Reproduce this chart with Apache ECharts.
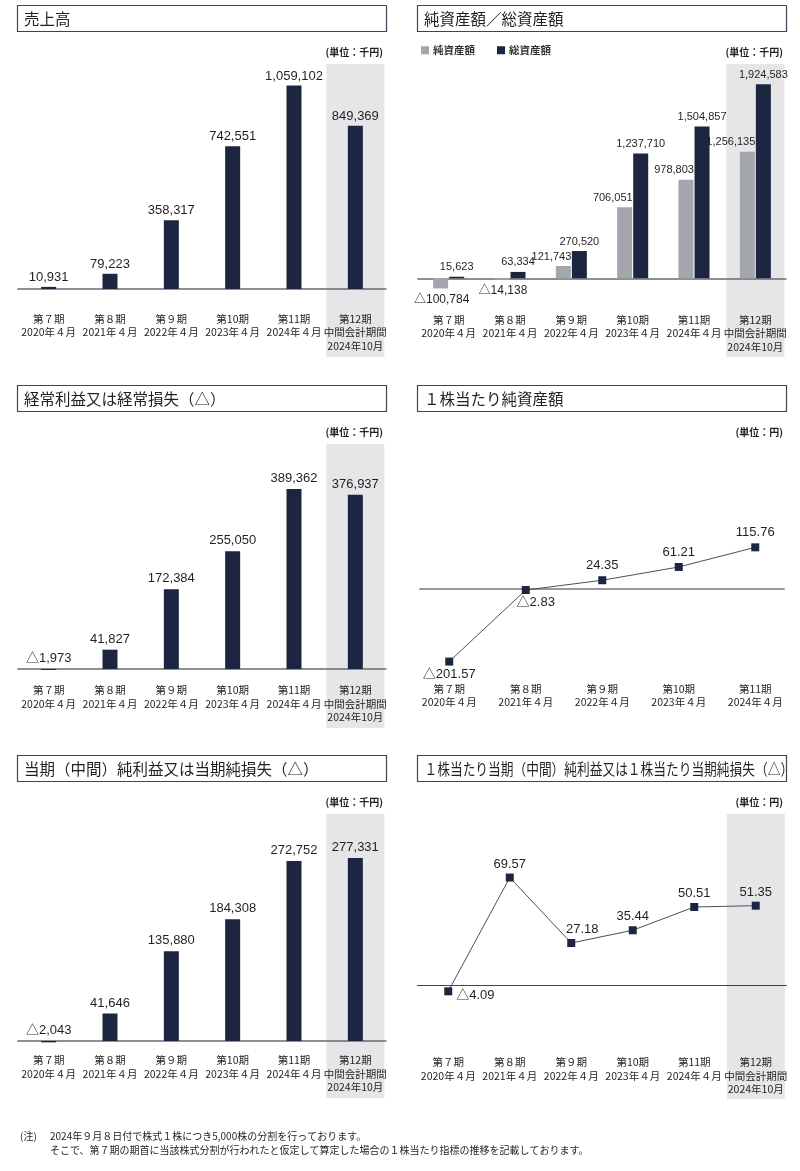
<!DOCTYPE html>
<html><head><meta charset="utf-8">
<script src="https://cdn.jsdelivr.net/npm/echarts@6/dist/echarts.min.js"></script>
<style>html,body{margin:0;padding:0;background:#fff}#c{width:800px;height:1171px}</style>
</head><body><div id="c"></div>
<script>
// ---------- data ----------
const categories = ['第７期\n2020年４月', '第８期\n2021年４月', '第９期\n2022年４月', '第10期\n2023年４月', '第11期\n2024年４月', '第12期\n中間会計期間\n2024年10月'];
const categoriesBPS = ['第７期\n2020年４月', '第８期\n2021年４月', '第９期\n2022年４月', '第10期\n2023年４月', '第11期\n2024年４月'];
const sales = [10931, 79223, 358317, 742551, 1059102, 849369];
const netAssets = [-100784, -14138, 121743, 706051, 978803, 1256135];
const totalAssets = [15623, 63334, 270520, 1237710, 1504857, 1924583];
const ordinaryIncome = [-1973, 41827, 172384, 255050, 389362, 376937];
const bps = [-201.57, -2.83, 24.35, 61.21, 115.76];
const netIncome = [-2043, 41646, 135880, 184308, 272752, 277331];
const eps = [-4.09, 69.57, 27.18, 35.44, 50.51, 51.35];
const titles = ['売上高', '純資産額／総資産額', '経常利益又は経常損失（△）', '１株当たり純資産額', '当期（中間）純利益又は当期純損失（△）', '１株当たり当期（中間）純利益又は１株当たり当期純損失（△）'];
const units = ['(単位：千円)', '(単位：千円)', '(単位：千円)', '(単位：円)', '(単位：千円)', '(単位：円)'];
const legendNames = ['純資産額', '総資産額'];
const noteLines = ['2024年９月８日付で株式１株につき5,000株の分割を行っております。', 'そこで、第７期の期首に当該株式分割が行われたと仮定して算定した場合の１株当たり指標の推移を記載しております。'];

// ---------- styles ----------
const NAVY = '#1c2640', GRAY = '#a4a6ad', SHADE = '#e6e6e9', TXT = '#231f20';
const NUMFONT = "'Liberation Sans','Noto Sans CJK JP',sans-serif";
const JPFONT = "'Noto Sans CJK JP',sans-serif";
const fmtInt = v => (v < 0 ? '△' : '') + Math.abs(v).toLocaleString('en-US');
const fmtDec = v => (v < 0 ? '△' : '') + Math.abs(v).toFixed(2);
const valLabel = (fmt, extra) => Object.assign({show: true, position: 'top', distance: 3, fontFamily: NUMFONT, fontSize: 13, color: TXT, formatter: p => fmt(p.value)}, extra || {});

function catAxis(gridIndex, data, margin, lineColor, lineWidth, showLine) {
  return {type: 'category', gridIndex, data,
    axisLine: {show: showLine !== false, onZero: true, lineStyle: {color: lineColor, width: lineWidth}},
    axisTick: {show: false}, splitLine: {show: false},
    axisLabel: {interval: 0, margin, fontFamily: JPFONT, fontSize: 10.5, lineHeight: 13.5, color: TXT, verticalAlign: 'top'}};
}
const valAxis = (gridIndex, min, max) => ({type: 'value', gridIndex, min, max, show: false});

function shadeSeries(idx, n) {
  return {type: 'custom', xAxisIndex: idx, yAxisIndex: idx, z: -1, silent: true,
    data: [[n - 1, 0]],
    renderItem: (params, api) => {
      const cs = params.coordSys;
      const cx = api.coord([api.value(0), 0])[0];
      const w = api.size([1, 0])[0] * 0.945;
      return {type: 'rect', shape: {x: cx - w / 2, y: cs.y, width: w, height: cs.height}, style: {fill: SHADE}};
    }};
}

const grids = [
  {left: 18, width: 368, top: 64, height: 293},
  {left: 418, width: 368, top: 64, height: 293},
  {left: 18, width: 368, top: 444, height: 284},
  {left: 411, width: 382.5, top: 444, height: 284},
  {left: 18, width: 368, top: 814, height: 284},
  {left: 417.5, width: 369, top: 814, height: 285},
  {left: 420, width: 364, top: 444, height: 284}
];
const xAxes = [
  catAxis(0, categories, -45, '#6b6b6b', 1.5),
  catAxis(1, categories, -44, '#6b6b6b', 1.5),
  catAxis(2, categories, -44.5, '#6b6b6b', 1.5),
  catAxis(3, categoriesBPS, -46, '#999', 2, false),
  catAxis(4, categories, -44.5, '#6b6b6b', 1.5),
  catAxis(5, categories, -43.5, '#444', 1),
  {type: 'category', gridIndex: 6, data: [''], axisLine: {show: true, onZero: true, lineStyle: {color: '#9a9a9a', width: 2}}, axisTick: {show: false}, axisLabel: {show: false}}
];
const yAxes = [
  valAxis(0, -353800, 1170650),
  valAxis(1, -780750, 2126000),
  valAxis(2, -127700, 487000),
  valAxis(3, -386.1, 402.8),
  valAxis(4, -86360, 343900),
  valAxis(5, -73.8, 110.7),
  valAxis(6, -386.1, 402.8)
];

const series = [
  shadeSeries(0, categories.length),
  shadeSeries(1, categories.length),
  shadeSeries(2, categories.length),
  shadeSeries(4, categories.length),
  shadeSeries(5, categories.length),
  {type: 'bar', xAxisIndex: 0, yAxisIndex: 0, data: sales, barWidth: 15, itemStyle: {color: NAVY}, label: valLabel(fmtInt)},
  {type: 'bar', name: legendNames[0], xAxisIndex: 1, yAxisIndex: 1, barWidth: 15, barGap: '7%', itemStyle: {color: GRAY},
    data: netAssets.map(v => v < 0 ? {value: v, label: {position: 'bottom', align: 'center', offset: [1, 0], distance: 5, fontSize: 12}} : v),
    label: valLabel(fmtInt, {align: 'right', offset: [8, 0], fontSize: 11, distance: 4})},
  {type: 'bar', name: legendNames[1], xAxisIndex: 1, yAxisIndex: 1, barWidth: 15, barGap: '7%', itemStyle: {color: NAVY},
    data: totalAssets, label: valLabel(fmtInt, {fontSize: 11, distance: 4})},
  {type: 'bar', xAxisIndex: 2, yAxisIndex: 2, data: ordinaryIncome, barWidth: 15, itemStyle: {color: NAVY}, label: valLabel(fmtInt, {distance: 4})},
  {type: 'line', xAxisIndex: 3, yAxisIndex: 3, symbol: 'rect', symbolSize: 8, lineStyle: {color: '#4b505c', width: 1}, itemStyle: {color: NAVY},
    data: bps.map((v, i) => v < 0 ? {value: v, label: {position: 'bottom', distance: 2, offset: [i === 0 ? 0 : 10, 0]}} : v),
    label: valLabel(fmtDec, {distance: 4})},
  {type: 'bar', xAxisIndex: 4, yAxisIndex: 4, data: netIncome, barWidth: 15, itemStyle: {color: NAVY}, label: valLabel(fmtInt, {distance: 4})},
  {type: 'line', xAxisIndex: 5, yAxisIndex: 5, symbol: 'rect', symbolSize: 8, lineStyle: {color: '#4b505c', width: 1}, itemStyle: {color: NAVY},
    data: eps.map((v, i) => v < 0 ? {value: v, label: {position: 'right', distance: 4, offset: [0, 4]}} : (i === 2 ? {value: v, label: {offset: [11, 0]}} : v)),
    label: valLabel(fmtDec, {distance: 3})}
];

// ---------- frame graphics (title boxes, units, note) ----------
const graphic = [];
const rowY = [0, 380, 750];
titles.forEach((t, i) => {
  const col = i % 2, row = Math.floor(i / 2);
  const bx = col ? 417.5 : 17.5, by = 5.5 + rowY[row];
  graphic.push({type: 'rect', shape: {x: bx, y: by, width: 369, height: 26}, style: {fill: '#fff', stroke: '#3e4453', lineWidth: 1.2}, z: 10});
  const long = t.length > 20;
  graphic.push({type: 'text', x: bx + (long ? 7 : 6.5), y: by + 13.5, scaleX: long ? 0.82 : 1, z: 11,
    style: {text: t, font: '15.5px ' + JPFONT, fill: TXT, verticalAlign: 'middle', textVerticalAlign: 'middle'}});
  graphic.push({type: 'text', x: col ? 783 : 383, y: 52 + rowY[row], z: 11,
    style: {text: units[i], font: 'bold 10px ' + JPFONT, fill: TXT, align: 'right', textAlign: 'right', verticalAlign: 'middle', textVerticalAlign: 'middle'}});
});
graphic.push({type: 'text', x: 20, y: 1136, style: {text: '(注)', font: '10px ' + JPFONT, fill: TXT, verticalAlign: 'middle', textVerticalAlign: 'middle'}});
noteLines.forEach((l, i) => graphic.push({type: 'text', x: 50, y: 1136 + i * 14, style: {text: l, font: '10px ' + JPFONT, fill: TXT, verticalAlign: 'middle', textVerticalAlign: 'middle'}}));

const chart = echarts.init(document.getElementById('c'), null, {renderer: 'canvas'});
chart.setOption({
  animation: false,
  backgroundColor: '#fff',
  legend: {data: legendNames, left: 421, top: 45, icon: 'rect', itemWidth: 8, itemHeight: 8, itemGap: 22, padding: 0,
    textStyle: {fontFamily: JPFONT, fontSize: 10.5, fontWeight: 'bold', color: '#333', padding: [0, 0, 0, -1]}},
  grid: grids, xAxis: xAxes, yAxis: yAxes, series, graphic
});
</script></body></html>
